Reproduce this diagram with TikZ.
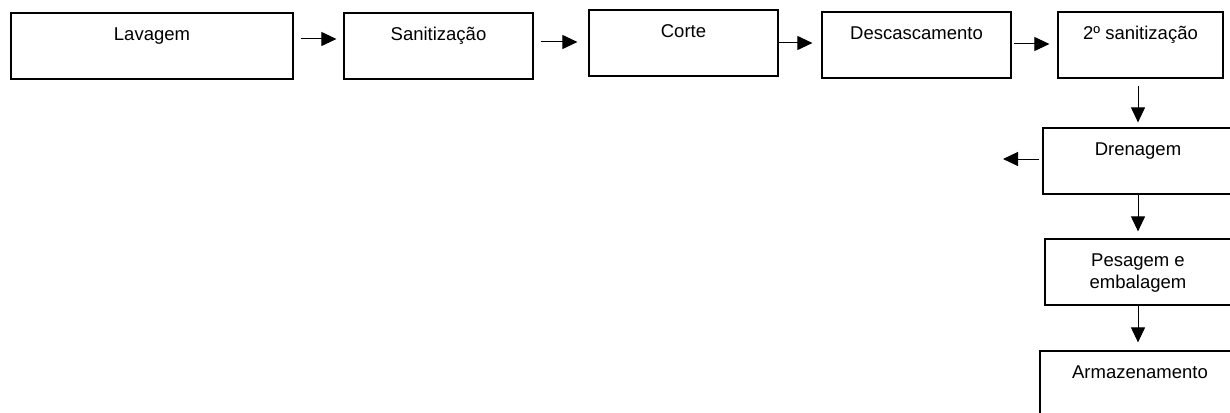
\documentclass[tikz,border=0pt]{standalone}
\usepackage{fontspec}
\setmainfont{Liberation Sans}
\usetikzlibrary{shapes,arrows,positioning,calc,arrows.meta}

\tikzset{
    etapa/.style={draw, line width=1.2pt, inner sep=0pt, minimum width=#1, minimum height=66pt,
        text height=27.7pt, text depth=38.3pt, align=center, font=\fontsize{18.5}{22}\selectfont},
    seta/.style={-{Triangle[length=15pt,width=14pt]}, line width=1pt}
}

\begin{document}
\begin{tikzpicture}[x=1pt,y=-1pt]
        \useasboundingbox (0,0) rectangle (1230,412);
        \clip (0,0) rectangle (1230,412);

        % linha de cima
        \node[etapa=282pt] (lav) at (152,46) {Lavagem};
        \node[etapa=189pt] (san) at (438.5,46) {Sanitização};
        \node[etapa=189pt] (cor) at (683.5,43) {Corte};
        \node[etapa=189pt] (desc) at (916.5,45) {Descascamento};
        \node[etapa=165pt] (san2) at (1140.5,45) {2º sanitização};

        % coluna da direita
        \node[etapa=190pt] (dren) at (1138,161) {Drenagem};
        \node[etapa=186pt, text height=49.7pt, text depth=16.3pt] (pes) at (1138,272) {Pesagem e\\embalagem};
        \node[etapa=200pt] (arm) at (1140,384) {Armazenamento};
        \coordinate (saida) at (1003,159);

        \draw[seta, shorten <=7pt, shorten >=7pt] ([yshift=7pt]lav.east) -- ([yshift=7pt]san.west);
        \draw[seta, shorten <=7pt, shorten >=11pt] ([yshift=4pt]san.east) -- ([yshift=1pt]cor.west);
        \draw[seta, shorten >=9pt] (cor.east) -- ([yshift=0pt]cor.east -| desc.west);
        \draw[seta, shorten <=2pt, shorten >=8pt] ([yshift=1pt]desc.east) -- ([yshift=1pt]san2.west);
        \draw[seta, shorten <=7pt, shorten >=5pt] (dren.north |- san2.south) -- (dren.north);
        \draw[seta, shorten <=3pt] ([yshift=2pt]dren.west) -- (saida);
        \draw[seta, shorten >=7pt] (dren.south) -- (pes.north);
        \draw[seta, shorten >=8pt] (pes.south) -- (pes.south |- arm.north);
    \end{tikzpicture}
\end{document}
